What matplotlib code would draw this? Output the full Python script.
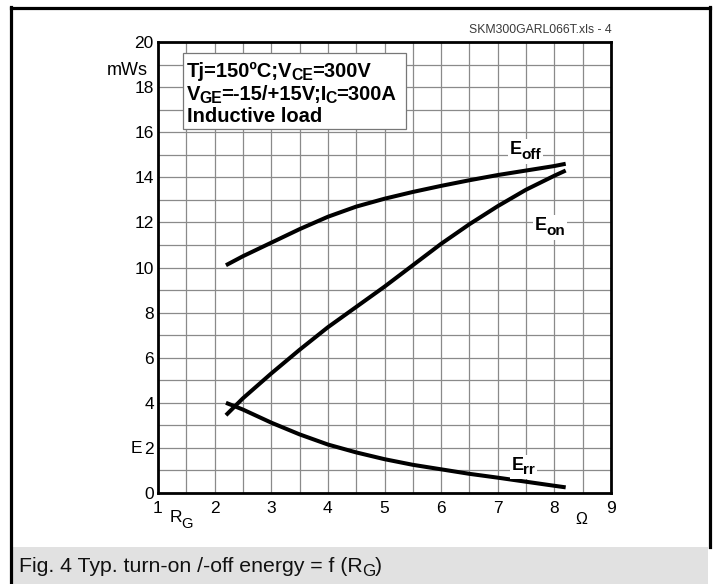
import matplotlib
matplotlib.use("Agg")
import matplotlib.pyplot as plt
from matplotlib.ticker import MultipleLocator
from matplotlib.patches import Rectangle
from matplotlib.lines import Line2D

plt.rcParams['font.family'] = ['Liberation Sans', 'DejaVu Sans']

# data (R_G in Ohm, E in mWs)
rg = [2.2, 2.5, 3.0, 3.5, 4.0, 4.5, 5.0, 5.5, 6.0, 6.5, 7.0, 7.5, 8.0, 8.2]
e_off = [10.1, 10.5, 11.1, 11.7, 12.25, 12.7, 13.05, 13.35, 13.62, 13.87, 14.1, 14.3, 14.5, 14.6]
e_on = [3.45, 4.2, 5.3, 6.35, 7.35, 8.25, 9.15, 10.1, 11.05, 11.92, 12.72, 13.45, 14.07, 14.3]
e_rr = [4.0, 3.7, 3.12, 2.6, 2.15, 1.8, 1.5, 1.25, 1.05, 0.85, 0.68, 0.5, 0.32, 0.25]
x_ticks = [1, 2, 3, 4, 5, 6, 7, 8, 9]
y_ticks = [0, 2, 4, 6, 8, 10, 12, 14, 16, 18, 20]

W, H = 715, 584
fig = plt.figure(figsize=(W / 100, H / 100), dpi=100)
renderer = fig.canvas.get_renderer()


def fx(px):
    return px / W


def fy(py):
    return 1 - py / H


def rich(x, y, pieces, size, weight='normal', sub_ratio=0.8, sub_drop=4,
         color='black', kern=1.0, background=False):
    cur = x
    x0, x1, y0, y1 = None, None, None, None
    for s, sub in pieces:
        fs = size * sub_ratio if sub else size
        yy = y + (sub_drop if sub else 0)
        t = fig.text(fx(cur), fy(yy), s, fontsize=fs, fontweight=weight, ha='left',
                     va='baseline', color=color, zorder=6)
        e = t.get_window_extent(renderer)
        x0 = e.x0 if x0 is None else min(x0, e.x0)
        x1 = e.x1 if x1 is None else max(x1, e.x1)
        y0 = e.y0 if y0 is None else min(y0, e.y0)
        y1 = e.y1 if y1 is None else max(y1, e.y1)
        cur += e.width - kern
    if background:
        p = 2
        fig.patches.append(Rectangle(((x0 - p) / W, (y0 - p) / H), (x1 - x0 + 2 * p) / W,
                                     (y1 - y0 + 2 * p) / H, transform=fig.transFigure,
                                     facecolor='white', edgecolor='none', zorder=5.5))


# caption band and frame
fig.patches.append(Rectangle((fx(12), fy(584)), fx(708) - fx(12), fy(547) - fy(584),
                             transform=fig.transFigure, facecolor='#e1e1e1', edgecolor='none', zorder=0))
fig.lines.append(Line2D([fx(11.5), fx(11.5)], [fy(7), fy(584)], transform=fig.transFigure, color='black', lw=2.3))
fig.lines.append(Line2D([fx(11.5), fx(709.5)], [fy(8), fy(8)], transform=fig.transFigure, color='black', lw=2.3))
fig.lines.append(Line2D([fx(709.5), fx(709.5)], [fy(7), fy(547)], transform=fig.transFigure, color='black', lw=2.3))

rich(19, 571.5, [('Fig. 4 Typ. turn-on /-off energy = f (R', False), ('G', True), (')', False)],
     15.3, sub_ratio=0.8, sub_drop=4, color='#111111', kern=0.8)
fig.text(fx(612), fy(33), 'SKM300GARL066T.xls - 4', fontsize=8.8, va='baseline', ha='right', color='#3a3a3a')

ax = fig.add_axes([fx(158), fy(493), fx(611) - fx(158), fy(42) - fy(493)])
ax.set_xlim(1, 9)
ax.set_ylim(0, 20)
ax.xaxis.set_minor_locator(MultipleLocator(0.5))
ax.yaxis.set_minor_locator(MultipleLocator(1))
ax.set_xticks(x_ticks)
ax.set_yticks(y_ticks)
ax.grid(True, which='both', color='#8a8a8a', lw=0.9)
ax.set_axisbelow(True)
ax.tick_params(which='both', length=0, labelsize=12.5)
ax.tick_params(axis='y', pad=3)
ax.tick_params(axis='x', pad=6)
for s in ax.spines.values():
    s.set_linewidth(2.0)
    s.set_color('black')
    s.set_zorder(5)

ax.plot(rg, e_off, color='black', lw=2.9, solid_capstyle='butt', solid_joinstyle='round')
ax.plot(rg, e_on, color='black', lw=2.9, solid_capstyle='butt', solid_joinstyle='round')
ax.plot(rg, e_rr, color='black', lw=2.9, solid_capstyle='butt', solid_joinstyle='round')

rich(510, 154, [('E', False), ('off', True)], 13, weight='bold', sub_ratio=0.85, sub_drop=5,
     kern=1.0, background=True)
rich(535, 230, [('E', False), ('on', True)], 13, weight='bold', sub_ratio=0.85, sub_drop=5,
     kern=1.0, background=True)
rich(512, 470, [('E', False), ('rr', True)], 13, weight='bold', sub_ratio=0.85, sub_drop=4,
     kern=1.0, background=True)

# condition box
fig.patches.append(Rectangle((fx(183), fy(129)), fx(406) - fx(183), fy(53) - fy(129),
                             transform=fig.transFigure, facecolor='white', edgecolor='#777777',
                             lw=0.9, zorder=4))
rich(187, 77, [('Tj=150\u00baC;V', False), ('CE', True), ('=300V', False)], 14.5, weight='bold',
     sub_ratio=0.78, sub_drop=3, kern=1.0)
rich(187, 100, [('V', False), ('GE', True), ('=-15/+15V;I', False), ('C', True), ('=300A', False)], 14.5,
     weight='bold', sub_ratio=0.78, sub_drop=3, kern=1.0)
rich(187, 122, [('Inductive load', False)], 14.5, weight='bold')

# axis labels
fig.text(fx(148), fy(75), 'mWs', fontsize=13, ha='right', va='baseline')
fig.text(fx(142), fy(453), 'E', fontsize=12.5, ha='right', va='baseline')
rich(170, 522, [('R', False), ('G', True)], 12.5, sub_ratio=0.85, sub_drop=6, kern=1.0)
fig.text(fx(581), fy(524), '\u03a9', fontsize=11.5, ha='center', va='baseline')

fig.savefig('out.png', dpi=100)
